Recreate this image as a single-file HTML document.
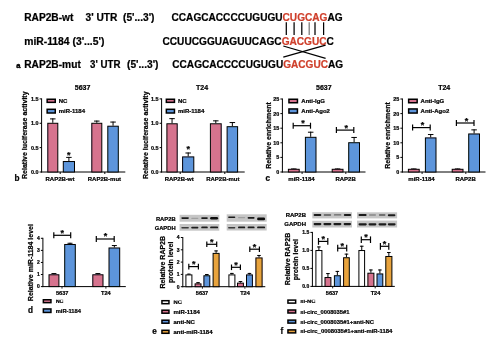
<!DOCTYPE html>
<html><head><meta charset="utf-8"><title>figure</title>
<style>
html,body{margin:0;padding:0;background:#fff;}
body{width:496px;height:352px;overflow:hidden;}
svg{display:block;font-family:"Liberation Sans",sans-serif;font-weight:bold;}
</style></head><body>
<svg width="496" height="352" viewBox="0 0 496 352">
<defs><filter id="soft" x="0" y="0" width="496" height="352" filterUnits="userSpaceOnUse"><feGaussianBlur stdDeviation="0.38"/></filter></defs>
<rect width="496" height="352" fill="#fff"/>
<g filter="url(#soft)">
<text x="24.2" y="20.9" font-size="10.2" text-anchor="start" fill="#000" stroke="#000" stroke-width="0.22">RAP2B-wt</text>
<text x="85.5" y="20.9" font-size="10.2" text-anchor="start" fill="#000" stroke="#000" stroke-width="0.22">3' UTR</text>
<text x="123" y="20.9" font-size="10.2" text-anchor="start" fill="#000" stroke="#000" stroke-width="0.22">(5'...3')</text>
<text x="171.5" y="20.9" font-size="10.2" stroke="#000" stroke-width="0.22" textLength="171.1" lengthAdjust="spacingAndGlyphs">CCAGCACCCCUGUGU<tspan fill="#cf3f2b" stroke="#cf3f2b">CUGCAG</tspan>AG</text>
<text x="24.2" y="45" font-size="10.2" text-anchor="start" fill="#000" stroke="#000" stroke-width="0.22" textLength="80.2" lengthAdjust="spacingAndGlyphs">miR-1184 (3'...5')</text>
<text x="162.5" y="44.8" font-size="10.2" stroke="#000" stroke-width="0.22" textLength="171.4" lengthAdjust="spacingAndGlyphs">CCUUCGGUAGUUCAGC<tspan fill="#cf3f2b" stroke="#cf3f2b">GACGUC</tspan>C</text>
<text x="16.2" y="67.5" font-size="7.6" text-anchor="start" fill="#000" stroke="#000" stroke-width="0.4">a</text>
<text x="24.2" y="67.5" font-size="10.2" text-anchor="start" fill="#000" stroke="#000" stroke-width="0.22">RAP2B-mut</text>
<text x="90.1" y="67.5" font-size="10.2" text-anchor="start" fill="#000" stroke="#000" stroke-width="0.22" textLength="30.4" lengthAdjust="spacingAndGlyphs">3' UTR</text>
<text x="127" y="67.5" font-size="10.2" text-anchor="start" fill="#000" stroke="#000" stroke-width="0.22">(5'...3')</text>
<text x="172.3" y="67.5" font-size="10.2" stroke="#000" stroke-width="0.22" textLength="170.8" lengthAdjust="spacingAndGlyphs">CCAGCACCCCUGUGU<tspan fill="#cf3f2b" stroke="#cf3f2b">GACGUC</tspan>AG</text>
<line x1="286.3" y1="22.3" x2="286.3" y2="35" stroke="#000" stroke-width="1.25"/>
<line x1="294.1" y1="22.3" x2="294.1" y2="35" stroke="#000" stroke-width="1.25"/>
<line x1="301.8" y1="22.3" x2="301.8" y2="35" stroke="#000" stroke-width="1.25"/>
<line x1="309.2" y1="22.3" x2="309.2" y2="35" stroke="#777" stroke-width="1.25"/>
<line x1="315" y1="22.3" x2="315" y2="35" stroke="#000" stroke-width="1.25"/>
<line x1="323.6" y1="22.3" x2="323.6" y2="35" stroke="#000" stroke-width="1.25"/>
<line x1="283.3" y1="46" x2="325.6" y2="58.4" stroke="#000" stroke-width="1.2"/>
<line x1="283.3" y1="57.2" x2="325.6" y2="45.2" stroke="#000" stroke-width="1.2"/>
<text x="14.4" y="180.6" font-size="8.2" text-anchor="start" fill="#000" stroke="#000" stroke-width="0.22">b</text>
<text x="82.6" y="89.7" font-size="7" text-anchor="middle" fill="#000" stroke="#000" stroke-width="0.22">5637</text>
<text transform="translate(27.3 135.2) rotate(-90)" font-size="7" text-anchor="middle" stroke="#000" stroke-width="0.22">Relative luciferase activity</text>
<line x1="41.6" y1="98.405" x2="41.6" y2="172.5" stroke="#000" stroke-width="1.0"/>
<line x1="41.1" y1="172.0" x2="125.3" y2="172.0" stroke="#000" stroke-width="1.0"/>
<line x1="39.6" y1="98.905" x2="41.6" y2="98.905" stroke="#000" stroke-width="1.0"/>
<text x="38.4" y="100.849" font-size="5.4" text-anchor="end" fill="#000" stroke="#000" stroke-width="0.22">1.5</text>
<line x1="39.6" y1="123.27000000000001" x2="41.6" y2="123.27000000000001" stroke="#000" stroke-width="1.0"/>
<text x="38.4" y="125.21400000000001" font-size="5.4" text-anchor="end" fill="#000" stroke="#000" stroke-width="0.22">1.0</text>
<line x1="39.6" y1="147.635" x2="41.6" y2="147.635" stroke="#000" stroke-width="1.0"/>
<text x="38.4" y="149.57899999999998" font-size="5.4" text-anchor="end" fill="#000" stroke="#000" stroke-width="0.22">0.5</text>
<line x1="39.6" y1="172.0" x2="41.6" y2="172.0" stroke="#000" stroke-width="1.0"/>
<text x="38.4" y="173.944" font-size="5.4" text-anchor="end" fill="#000" stroke="#000" stroke-width="0.22">0.0</text>
<rect x="47.15" y="99.25" width="8.10" height="3.10" fill="#d6738e" stroke="#000" stroke-width="1.5"/>
<rect x="47.15" y="109.30" width="8.10" height="3.70" fill="#5d95db" stroke="#000" stroke-width="1.5"/>
<text x="58.7" y="102.8" font-size="6" text-anchor="start" fill="#000" stroke="#000" stroke-width="0.22">NC</text>
<text x="58.7" y="112.6" font-size="6" text-anchor="start" fill="#000" stroke="#000" stroke-width="0.22">miR-1184</text>
<line x1="52.8" y1="122.7827" x2="52.8" y2="118.39699999999999" stroke="#000" stroke-width="1.0"/>
<line x1="50.05" y1="118.89699999999999" x2="55.55" y2="118.89699999999999" stroke="#000" stroke-width="1.0"/>
<rect x="47.80" y="123.28" width="10.00" height="48.72" fill="#d6738e" stroke="#000" stroke-width="1"/>
<line x1="68.9" y1="161.03575" x2="68.9" y2="156.8937" stroke="#000" stroke-width="1.0"/>
<line x1="66.15" y1="157.3937" x2="71.65" y2="157.3937" stroke="#000" stroke-width="1.0"/>
<rect x="63.30" y="161.54" width="11.20" height="10.46" fill="#5d95db" stroke="#000" stroke-width="1"/>
<line x1="96.8" y1="122.7827" x2="96.8" y2="120.58985000000001" stroke="#000" stroke-width="1.0"/>
<line x1="94.05" y1="121.08985000000001" x2="99.55" y2="121.08985000000001" stroke="#000" stroke-width="1.0"/>
<rect x="91.80" y="123.28" width="10.00" height="48.72" fill="#d6738e" stroke="#000" stroke-width="1"/>
<line x1="113.05" y1="125.7065" x2="113.05" y2="121.56445000000001" stroke="#000" stroke-width="1.0"/>
<line x1="110.3" y1="122.06445000000001" x2="115.8" y2="122.06445000000001" stroke="#000" stroke-width="1.0"/>
<rect x="107.80" y="126.21" width="10.50" height="45.79" fill="#5d95db" stroke="#000" stroke-width="1"/>
<text x="68.7" y="157.53" font-size="9" text-anchor="middle" fill="#000" stroke="#000" stroke-width="0.22">*</text>
<line x1="60.2" y1="172.0" x2="60.2" y2="174.0" stroke="#000" stroke-width="1.0"/>
<line x1="104.8" y1="172.0" x2="104.8" y2="174.0" stroke="#000" stroke-width="1.0"/>
<text x="60.0" y="180.6" font-size="6" text-anchor="middle" fill="#000" stroke="#000" stroke-width="0.22">RAP2B-wt</text>
<text x="104.4" y="180.6" font-size="6" text-anchor="middle" fill="#000" stroke="#000" stroke-width="0.22">RAP2B-mut</text>
<text x="202" y="89.7" font-size="7" text-anchor="middle" fill="#000" stroke="#000" stroke-width="0.22">T24</text>
<text transform="translate(147.6 135.2) rotate(-90)" font-size="7" text-anchor="middle" stroke="#000" stroke-width="0.22">Relative luciferase activity</text>
<line x1="161.6" y1="98.405" x2="161.6" y2="172.5" stroke="#000" stroke-width="1.0"/>
<line x1="161.1" y1="172.0" x2="244.70000000000002" y2="172.0" stroke="#000" stroke-width="1.0"/>
<line x1="159.6" y1="98.905" x2="161.6" y2="98.905" stroke="#000" stroke-width="1.0"/>
<text x="158.4" y="100.849" font-size="5.4" text-anchor="end" fill="#000" stroke="#000" stroke-width="0.22">1.5</text>
<line x1="159.6" y1="123.27000000000001" x2="161.6" y2="123.27000000000001" stroke="#000" stroke-width="1.0"/>
<text x="158.4" y="125.21400000000001" font-size="5.4" text-anchor="end" fill="#000" stroke="#000" stroke-width="0.22">1.0</text>
<line x1="159.6" y1="147.635" x2="161.6" y2="147.635" stroke="#000" stroke-width="1.0"/>
<text x="158.4" y="149.57899999999998" font-size="5.4" text-anchor="end" fill="#000" stroke="#000" stroke-width="0.22">0.5</text>
<line x1="159.6" y1="172.0" x2="161.6" y2="172.0" stroke="#000" stroke-width="1.0"/>
<text x="158.4" y="173.944" font-size="5.4" text-anchor="end" fill="#000" stroke="#000" stroke-width="0.22">0.0</text>
<rect x="166.35" y="99.25" width="8.10" height="3.10" fill="#d6738e" stroke="#000" stroke-width="1.5"/>
<rect x="166.35" y="109.30" width="8.10" height="3.70" fill="#5d95db" stroke="#000" stroke-width="1.5"/>
<text x="177.9" y="102.8" font-size="6" text-anchor="start" fill="#000" stroke="#000" stroke-width="0.22">NC</text>
<text x="177.9" y="112.6" font-size="6" text-anchor="start" fill="#000" stroke="#000" stroke-width="0.22">miR-1184</text>
<line x1="172.05" y1="123.27000000000001" x2="172.05" y2="118.15335" stroke="#000" stroke-width="1.0"/>
<line x1="169.3" y1="118.65335" x2="174.8" y2="118.65335" stroke="#000" stroke-width="1.0"/>
<rect x="166.90" y="123.77" width="10.30" height="48.23" fill="#d6738e" stroke="#000" stroke-width="1"/>
<line x1="188.2" y1="156.4064" x2="188.2" y2="152.508" stroke="#000" stroke-width="1.0"/>
<line x1="185.45" y1="153.008" x2="190.95" y2="153.008" stroke="#000" stroke-width="1.0"/>
<rect x="182.60" y="156.91" width="11.20" height="15.09" fill="#5d95db" stroke="#000" stroke-width="1"/>
<line x1="215.8" y1="123.27000000000001" x2="215.8" y2="120.34620000000001" stroke="#000" stroke-width="1.0"/>
<line x1="213.05" y1="120.84620000000001" x2="218.55" y2="120.84620000000001" stroke="#000" stroke-width="1.0"/>
<rect x="210.40" y="123.77" width="10.80" height="48.23" fill="#d6738e" stroke="#000" stroke-width="1"/>
<line x1="232.35" y1="126.19380000000001" x2="232.35" y2="122.05175" stroke="#000" stroke-width="1.0"/>
<line x1="229.6" y1="122.55175" x2="235.1" y2="122.55175" stroke="#000" stroke-width="1.0"/>
<rect x="227.10" y="126.69" width="10.50" height="45.31" fill="#5d95db" stroke="#000" stroke-width="1"/>
<text x="188.2" y="152.42999999999998" font-size="9" text-anchor="middle" fill="#000" stroke="#000" stroke-width="0.22">*</text>
<line x1="180.2" y1="172.0" x2="180.2" y2="174.0" stroke="#000" stroke-width="1.0"/>
<line x1="224.8" y1="172.0" x2="224.8" y2="174.0" stroke="#000" stroke-width="1.0"/>
<text x="179.2" y="180.6" font-size="6" text-anchor="middle" fill="#000" stroke="#000" stroke-width="0.22">RAP2B-wt</text>
<text x="222.8" y="180.6" font-size="6" text-anchor="middle" fill="#000" stroke="#000" stroke-width="0.22">RAP2B-mut</text>
<text x="265.6" y="180.6" font-size="8.2" text-anchor="start" fill="#000" stroke="#000" stroke-width="0.22">c</text>
<text x="323.8" y="89.7" font-size="7" text-anchor="middle" fill="#000" stroke="#000" stroke-width="0.22">5637</text>
<text transform="translate(270.6 135.5) rotate(-90)" font-size="7" text-anchor="middle" stroke="#000" stroke-width="0.22">Relative enrichment</text>
<line x1="282.4" y1="98.5" x2="282.4" y2="172.5" stroke="#000" stroke-width="1.0"/>
<line x1="281.9" y1="172.0" x2="365.5" y2="172.0" stroke="#000" stroke-width="1.0"/>
<line x1="280.4" y1="99.0" x2="282.4" y2="99.0" stroke="#000" stroke-width="1.0"/>
<text x="279.2" y="100.944" font-size="5.4" text-anchor="end" fill="#000" stroke="#000" stroke-width="0.22">25</text>
<line x1="280.4" y1="113.6" x2="282.4" y2="113.6" stroke="#000" stroke-width="1.0"/>
<text x="279.2" y="115.544" font-size="5.4" text-anchor="end" fill="#000" stroke="#000" stroke-width="0.22">20</text>
<line x1="280.4" y1="128.2" x2="282.4" y2="128.2" stroke="#000" stroke-width="1.0"/>
<text x="279.2" y="130.14399999999998" font-size="5.4" text-anchor="end" fill="#000" stroke="#000" stroke-width="0.22">15</text>
<line x1="280.4" y1="142.8" x2="282.4" y2="142.8" stroke="#000" stroke-width="1.0"/>
<text x="279.2" y="144.744" font-size="5.4" text-anchor="end" fill="#000" stroke="#000" stroke-width="0.22">10</text>
<line x1="280.4" y1="157.4" x2="282.4" y2="157.4" stroke="#000" stroke-width="1.0"/>
<text x="279.2" y="159.344" font-size="5.4" text-anchor="end" fill="#000" stroke="#000" stroke-width="0.22">5</text>
<line x1="280.4" y1="172.0" x2="282.4" y2="172.0" stroke="#000" stroke-width="1.0"/>
<text x="279.2" y="173.944" font-size="5.4" text-anchor="end" fill="#000" stroke="#000" stroke-width="0.22">0</text>
<rect x="288.95" y="99.25" width="8.50" height="3.50" fill="#d6738e" stroke="#000" stroke-width="1.5"/>
<rect x="288.95" y="108.95" width="8.50" height="4.10" fill="#5d95db" stroke="#000" stroke-width="1.5"/>
<text x="301.3" y="103.1" font-size="6" text-anchor="start" fill="#000" stroke="#000" stroke-width="0.22">Anti-IgG</text>
<text x="301.3" y="112.9" font-size="6" text-anchor="start" fill="#000" stroke="#000" stroke-width="0.22">Anti-Ago2</text>
<line x1="293.79999999999995" y1="168.788" x2="293.79999999999995" y2="168.4376" stroke="#000" stroke-width="1.0"/>
<line x1="291.04999999999995" y1="168.9376" x2="296.54999999999995" y2="168.9376" stroke="#000" stroke-width="1.0"/>
<rect x="288.40" y="169.29" width="10.80" height="2.71" fill="#d6738e" stroke="#000" stroke-width="1"/>
<line x1="310.7" y1="136.814" x2="310.7" y2="131.704" stroke="#000" stroke-width="1.0"/>
<line x1="307.95" y1="132.204" x2="313.45" y2="132.204" stroke="#000" stroke-width="1.0"/>
<rect x="305.40" y="137.31" width="10.60" height="34.69" fill="#5d95db" stroke="#000" stroke-width="1"/>
<line x1="337.6" y1="168.788" x2="337.6" y2="168.4376" stroke="#000" stroke-width="1.0"/>
<line x1="334.85" y1="168.9376" x2="340.35" y2="168.9376" stroke="#000" stroke-width="1.0"/>
<rect x="332.20" y="169.29" width="10.80" height="2.71" fill="#d6738e" stroke="#000" stroke-width="1"/>
<line x1="354.1" y1="142.216" x2="354.1" y2="136.96" stroke="#000" stroke-width="1.0"/>
<line x1="351.35" y1="137.46" x2="356.85" y2="137.46" stroke="#000" stroke-width="1.0"/>
<rect x="348.70" y="142.72" width="10.80" height="29.28" fill="#5d95db" stroke="#000" stroke-width="1"/>
<line x1="293.2" y1="125.7" x2="310.5" y2="125.7" stroke="#000" stroke-width="1.2"/>
<line x1="293.2" y1="122.7" x2="293.2" y2="128.7" stroke="#000" stroke-width="1.2"/>
<line x1="310.5" y1="122.7" x2="310.5" y2="128.7" stroke="#000" stroke-width="1.2"/>
<text x="303.05" y="126.43" font-size="9" text-anchor="middle" fill="#000" stroke="#000" stroke-width="0.22">*</text>
<line x1="336.4" y1="130.1" x2="353.8" y2="130.1" stroke="#000" stroke-width="1.2"/>
<line x1="336.4" y1="127.1" x2="336.4" y2="133.1" stroke="#000" stroke-width="1.2"/>
<line x1="353.8" y1="127.1" x2="353.8" y2="133.1" stroke="#000" stroke-width="1.2"/>
<text x="346.3" y="130.82999999999998" font-size="9" text-anchor="middle" fill="#000" stroke="#000" stroke-width="0.22">*</text>
<line x1="302.1" y1="172.0" x2="302.1" y2="174.0" stroke="#000" stroke-width="0.9"/>
<line x1="345.8" y1="172.0" x2="345.8" y2="174.0" stroke="#000" stroke-width="0.9"/>
<text x="301.5" y="180.5" font-size="6" text-anchor="middle" fill="#000" stroke="#000" stroke-width="0.22">miR-1184</text>
<text x="345.6" y="180.5" font-size="6" text-anchor="middle" fill="#000" stroke="#000" stroke-width="0.22">RAP2B</text>
<text x="444.2" y="89.7" font-size="7" text-anchor="middle" fill="#000" stroke="#000" stroke-width="0.22">T24</text>
<text transform="translate(390.3 135.5) rotate(-90)" font-size="7" text-anchor="middle" stroke="#000" stroke-width="0.22">Relative enrichment</text>
<line x1="402.4" y1="98.5" x2="402.4" y2="172.5" stroke="#000" stroke-width="1.0"/>
<line x1="401.9" y1="172.0" x2="485.5" y2="172.0" stroke="#000" stroke-width="1.0"/>
<line x1="400.4" y1="99.0" x2="402.4" y2="99.0" stroke="#000" stroke-width="1.0"/>
<text x="399.2" y="100.944" font-size="5.4" text-anchor="end" fill="#000" stroke="#000" stroke-width="0.22">25</text>
<line x1="400.4" y1="113.6" x2="402.4" y2="113.6" stroke="#000" stroke-width="1.0"/>
<text x="399.2" y="115.544" font-size="5.4" text-anchor="end" fill="#000" stroke="#000" stroke-width="0.22">20</text>
<line x1="400.4" y1="128.2" x2="402.4" y2="128.2" stroke="#000" stroke-width="1.0"/>
<text x="399.2" y="130.14399999999998" font-size="5.4" text-anchor="end" fill="#000" stroke="#000" stroke-width="0.22">15</text>
<line x1="400.4" y1="142.8" x2="402.4" y2="142.8" stroke="#000" stroke-width="1.0"/>
<text x="399.2" y="144.744" font-size="5.4" text-anchor="end" fill="#000" stroke="#000" stroke-width="0.22">10</text>
<line x1="400.4" y1="157.4" x2="402.4" y2="157.4" stroke="#000" stroke-width="1.0"/>
<text x="399.2" y="159.344" font-size="5.4" text-anchor="end" fill="#000" stroke="#000" stroke-width="0.22">5</text>
<line x1="400.4" y1="172.0" x2="402.4" y2="172.0" stroke="#000" stroke-width="1.0"/>
<text x="399.2" y="173.944" font-size="5.4" text-anchor="end" fill="#000" stroke="#000" stroke-width="0.22">0</text>
<rect x="408.65" y="99.25" width="8.50" height="3.50" fill="#d6738e" stroke="#000" stroke-width="1.5"/>
<rect x="408.65" y="108.95" width="8.50" height="4.10" fill="#5d95db" stroke="#000" stroke-width="1.5"/>
<text x="420.6" y="103.1" font-size="6" text-anchor="start" fill="#000" stroke="#000" stroke-width="0.22">Anti-IgG</text>
<text x="420.6" y="112.9" font-size="6" text-anchor="start" fill="#000" stroke="#000" stroke-width="0.22">Anti-Ago2</text>
<line x1="413.79999999999995" y1="168.788" x2="413.79999999999995" y2="168.4376" stroke="#000" stroke-width="1.0"/>
<line x1="411.04999999999995" y1="168.9376" x2="416.54999999999995" y2="168.9376" stroke="#000" stroke-width="1.0"/>
<rect x="408.40" y="169.29" width="10.80" height="2.71" fill="#d6738e" stroke="#000" stroke-width="1"/>
<line x1="430.7" y1="137.398" x2="430.7" y2="134.04" stroke="#000" stroke-width="1.0"/>
<line x1="427.95" y1="134.54" x2="433.45" y2="134.54" stroke="#000" stroke-width="1.0"/>
<rect x="425.40" y="137.90" width="10.60" height="34.10" fill="#5d95db" stroke="#000" stroke-width="1"/>
<line x1="457.6" y1="168.788" x2="457.6" y2="168.4376" stroke="#000" stroke-width="1.0"/>
<line x1="454.85" y1="168.9376" x2="460.35" y2="168.9376" stroke="#000" stroke-width="1.0"/>
<rect x="452.20" y="169.29" width="10.80" height="2.71" fill="#d6738e" stroke="#000" stroke-width="1"/>
<line x1="474.1" y1="133.45600000000002" x2="474.1" y2="129.368" stroke="#000" stroke-width="1.0"/>
<line x1="471.35" y1="129.868" x2="476.85" y2="129.868" stroke="#000" stroke-width="1.0"/>
<rect x="468.70" y="133.96" width="10.80" height="38.04" fill="#5d95db" stroke="#000" stroke-width="1"/>
<line x1="412.6" y1="127.6" x2="430.2" y2="127.6" stroke="#000" stroke-width="1.2"/>
<line x1="412.6" y1="124.6" x2="412.6" y2="130.6" stroke="#000" stroke-width="1.2"/>
<line x1="430.2" y1="124.6" x2="430.2" y2="130.6" stroke="#000" stroke-width="1.2"/>
<text x="422.59999999999997" y="128.32999999999998" font-size="9" text-anchor="middle" fill="#000" stroke="#000" stroke-width="0.22">*</text>
<line x1="456.4" y1="123" x2="474" y2="123" stroke="#000" stroke-width="1.2"/>
<line x1="456.4" y1="120" x2="456.4" y2="126" stroke="#000" stroke-width="1.2"/>
<line x1="474" y1="120" x2="474" y2="126" stroke="#000" stroke-width="1.2"/>
<text x="466.4" y="123.73" font-size="9" text-anchor="middle" fill="#000" stroke="#000" stroke-width="0.22">*</text>
<line x1="422.1" y1="172.0" x2="422.1" y2="174.0" stroke="#000" stroke-width="0.9"/>
<line x1="465.8" y1="172.0" x2="465.8" y2="174.0" stroke="#000" stroke-width="0.9"/>
<text x="421.5" y="180.5" font-size="6" text-anchor="middle" fill="#000" stroke="#000" stroke-width="0.22">miR-1184</text>
<text x="465.6" y="180.5" font-size="6" text-anchor="middle" fill="#000" stroke="#000" stroke-width="0.22">RAP2B</text>
<text transform="translate(33.2 262.6) rotate(-90)" font-size="7" text-anchor="middle" stroke="#000" stroke-width="0.22">Relative miR-1184 level</text>
<line x1="42.9" y1="237.8" x2="42.9" y2="287.1" stroke="#000" stroke-width="1.0"/>
<line x1="42.4" y1="286.6" x2="125.8" y2="286.6" stroke="#000" stroke-width="1.0"/>
<line x1="40.9" y1="238.3" x2="42.9" y2="238.3" stroke="#000" stroke-width="1.0"/>
<text x="39.699999999999996" y="240.10000000000002" font-size="5.0" text-anchor="end" fill="#000" stroke="#000" stroke-width="0.22">4</text>
<line x1="40.9" y1="250.37500000000003" x2="42.9" y2="250.37500000000003" stroke="#000" stroke-width="1.0"/>
<text x="39.699999999999996" y="252.17500000000004" font-size="5.0" text-anchor="end" fill="#000" stroke="#000" stroke-width="0.22">3</text>
<line x1="40.9" y1="262.45000000000005" x2="42.9" y2="262.45000000000005" stroke="#000" stroke-width="1.0"/>
<text x="39.699999999999996" y="264.25000000000006" font-size="5.0" text-anchor="end" fill="#000" stroke="#000" stroke-width="0.22">2</text>
<line x1="40.9" y1="274.52500000000003" x2="42.9" y2="274.52500000000003" stroke="#000" stroke-width="1.0"/>
<text x="39.699999999999996" y="276.32500000000005" font-size="5.0" text-anchor="end" fill="#000" stroke="#000" stroke-width="0.22">1</text>
<line x1="40.9" y1="286.6" x2="42.9" y2="286.6" stroke="#000" stroke-width="1.0"/>
<text x="39.699999999999996" y="288.40000000000003" font-size="5.0" text-anchor="end" fill="#000" stroke="#000" stroke-width="0.22">0</text>
<line x1="53.95" y1="274.2835" x2="53.95" y2="273.076" stroke="#000" stroke-width="1.0"/>
<line x1="51.45" y1="273.576" x2="56.45" y2="273.576" stroke="#000" stroke-width="1.0"/>
<rect x="49.00" y="274.78" width="9.90" height="11.82" fill="#d6738e" stroke="#000" stroke-width="1"/>
<line x1="70.0" y1="243.97525000000002" x2="70.0" y2="242.76775000000004" stroke="#000" stroke-width="1.0"/>
<line x1="67.5" y1="243.26775000000004" x2="72.5" y2="243.26775000000004" stroke="#000" stroke-width="1.0"/>
<rect x="64.70" y="244.48" width="10.60" height="42.12" fill="#5d95db" stroke="#000" stroke-width="1"/>
<line x1="97.9" y1="274.2835" x2="97.9" y2="273.076" stroke="#000" stroke-width="1.0"/>
<line x1="95.4" y1="273.576" x2="100.4" y2="273.576" stroke="#000" stroke-width="1.0"/>
<rect x="92.80" y="274.78" width="10.20" height="11.82" fill="#d6738e" stroke="#000" stroke-width="1"/>
<line x1="114.35" y1="247.47700000000003" x2="114.35" y2="245.062" stroke="#000" stroke-width="1.0"/>
<line x1="111.85" y1="245.562" x2="116.85" y2="245.562" stroke="#000" stroke-width="1.0"/>
<rect x="109.00" y="247.98" width="10.70" height="38.62" fill="#5d95db" stroke="#000" stroke-width="1"/>
<line x1="53.8" y1="235.3" x2="70.7" y2="235.3" stroke="#000" stroke-width="1.2"/>
<line x1="53.8" y1="232.3" x2="53.8" y2="238.3" stroke="#000" stroke-width="1.2"/>
<line x1="70.7" y1="232.3" x2="70.7" y2="238.3" stroke="#000" stroke-width="1.2"/>
<text x="62.3" y="235.82999999999998" font-size="9" text-anchor="middle" fill="#000" stroke="#000" stroke-width="0.22">*</text>
<line x1="96.3" y1="239" x2="114.2" y2="239" stroke="#000" stroke-width="1.2"/>
<line x1="96.3" y1="236" x2="96.3" y2="242" stroke="#000" stroke-width="1.2"/>
<line x1="114.2" y1="236" x2="114.2" y2="242" stroke="#000" stroke-width="1.2"/>
<text x="105.4" y="239.42999999999998" font-size="9" text-anchor="middle" fill="#000" stroke="#000" stroke-width="0.22">*</text>
<line x1="62" y1="286.6" x2="62" y2="288.6" stroke="#000" stroke-width="0.9"/>
<line x1="105.9" y1="286.6" x2="105.9" y2="288.6" stroke="#000" stroke-width="0.9"/>
<text x="62.2" y="294.9" font-size="5.6" text-anchor="middle" fill="#000" stroke="#000" stroke-width="0.22">5637</text>
<text x="105.8" y="294.9" font-size="5.6" text-anchor="middle" fill="#000" stroke="#000" stroke-width="0.22">T24</text>
<rect x="43.35" y="299.75" width="7.60" height="2.90" fill="#d6738e" stroke="#000" stroke-width="1.5"/>
<rect x="43.35" y="308.95" width="7.60" height="3.50" fill="#5d95db" stroke="#000" stroke-width="1.5"/>
<clipPath id="cd"><rect x="50" y="299.7" width="30" height="8"/></clipPath>
<text x="55.7" y="303.2" font-size="5.4" text-anchor="start" fill="#000" stroke="#000" stroke-width="0.22" clip-path="url(#cd)">NC</text>
<text x="55.7" y="312.9" font-size="5.75" text-anchor="start" fill="#000" stroke="#000" stroke-width="0.22">miR-1184</text>
<text x="27.9" y="312.9" font-size="8.2" text-anchor="start" fill="#000" stroke="#000" stroke-width="0.22">d</text>
<text x="175.6" y="220.9" font-size="5.8" text-anchor="end" fill="#000" stroke="#000" stroke-width="0.22">RAP2B</text>
<text x="175.6" y="229.5" font-size="5.8" text-anchor="end" fill="#000" stroke="#000" stroke-width="0.22">GAPDH</text>
<rect x="179.6" y="214.8" width="39.70" height="6.90" fill="#c6c6c6"/>
<rect x="181.3" y="217.30" width="7.60" height="1.6" rx="0.80" fill="#1c1c1c"/>
<rect x="191.2" y="217.65" width="7.20" height="1.3" rx="0.65" fill="#a0a0a0"/>
<rect x="201.2" y="217.25" width="6.60" height="1.7" rx="0.85" fill="#1c1c1c"/>
<rect x="210.1" y="217.00" width="8.00" height="2.6" rx="1.30" fill="#0a0a0a"/>
<rect x="179.6" y="224" width="39.70" height="6.70" fill="#c6c6c6"/>
<rect x="181.3" y="227.05" width="7.60" height="1.5" rx="0.75" fill="#3a3a3a"/>
<rect x="191.2" y="226.75" width="7.20" height="1.7" rx="0.85" fill="#1c1c1c"/>
<rect x="201.2" y="226.50" width="6.60" height="1.8" rx="0.90" fill="#1c1c1c"/>
<rect x="210.1" y="226.45" width="8.00" height="1.9" rx="0.95" fill="#1c1c1c"/>
<rect x="226.7" y="214.3" width="40.00" height="7.40" fill="#c6c6c6"/>
<rect x="228.1" y="216.40" width="7.20" height="1.6" rx="0.80" fill="#1c1c1c"/>
<rect x="238" y="217.00" width="7.20" height="1.2" rx="0.60" fill="#a0a0a0"/>
<rect x="247.6" y="216.95" width="7.00" height="1.7" rx="0.85" fill="#1c1c1c"/>
<rect x="257.1" y="217.60" width="8.00" height="2.6" rx="1.30" fill="#0a0a0a"/>
<rect x="226.7" y="224" width="40.00" height="6.50" fill="#c6c6c6"/>
<rect x="228.1" y="227.00" width="7.20" height="1.4" rx="0.70" fill="#3a3a3a"/>
<rect x="238" y="226.55" width="7.20" height="1.7" rx="0.85" fill="#1c1c1c"/>
<rect x="247.6" y="226.55" width="7.00" height="1.7" rx="0.85" fill="#1c1c1c"/>
<rect x="257.1" y="226.50" width="8.00" height="1.8" rx="0.90" fill="#1c1c1c"/>
<text transform="translate(165.2 262.2) rotate(-90)" font-size="7" text-anchor="middle" stroke="#000" stroke-width="0.22">Relative RAP2B</text>
<text transform="translate(173.1 262.3) rotate(-90)" font-size="7" text-anchor="middle" stroke="#000" stroke-width="0.22">protein level</text>
<line x1="182.8" y1="237.0" x2="182.8" y2="287.2" stroke="#000" stroke-width="1.0"/>
<line x1="182.3" y1="286.7" x2="265.3" y2="286.7" stroke="#000" stroke-width="1.0"/>
<line x1="180.8" y1="237.5" x2="182.8" y2="237.5" stroke="#000" stroke-width="1.0"/>
<text x="179.60000000000002" y="239.3" font-size="5.0" text-anchor="end" fill="#000" stroke="#000" stroke-width="0.22">4</text>
<line x1="180.8" y1="249.79999999999998" x2="182.8" y2="249.79999999999998" stroke="#000" stroke-width="1.0"/>
<text x="179.60000000000002" y="251.6" font-size="5.0" text-anchor="end" fill="#000" stroke="#000" stroke-width="0.22">3</text>
<line x1="180.8" y1="262.09999999999997" x2="182.8" y2="262.09999999999997" stroke="#000" stroke-width="1.0"/>
<text x="179.60000000000002" y="263.9" font-size="5.0" text-anchor="end" fill="#000" stroke="#000" stroke-width="0.22">2</text>
<line x1="180.8" y1="274.4" x2="182.8" y2="274.4" stroke="#000" stroke-width="1.0"/>
<text x="179.60000000000002" y="276.2" font-size="5.0" text-anchor="end" fill="#000" stroke="#000" stroke-width="0.22">1</text>
<line x1="180.8" y1="286.7" x2="182.8" y2="286.7" stroke="#000" stroke-width="1.0"/>
<text x="179.60000000000002" y="288.5" font-size="5.0" text-anchor="end" fill="#000" stroke="#000" stroke-width="0.22">0</text>
<line x1="188.9" y1="274.4" x2="188.9" y2="273.662" stroke="#000" stroke-width="1.0"/>
<line x1="187.1" y1="274.162" x2="190.70000000000002" y2="274.162" stroke="#000" stroke-width="1.0"/>
<rect x="185.90" y="274.90" width="6.00" height="11.80" fill="#ffffff" stroke="#000" stroke-width="1"/>
<line x1="198.05" y1="283.37899999999996" x2="198.05" y2="282.149" stroke="#000" stroke-width="1.0"/>
<line x1="196.25" y1="282.649" x2="199.85000000000002" y2="282.649" stroke="#000" stroke-width="1.0"/>
<rect x="195.10" y="283.88" width="5.90" height="2.82" fill="#d6738e" stroke="#000" stroke-width="1"/>
<line x1="206.85000000000002" y1="275.26099999999997" x2="206.85000000000002" y2="274.031" stroke="#000" stroke-width="1.0"/>
<line x1="205.05" y1="274.531" x2="208.65000000000003" y2="274.531" stroke="#000" stroke-width="1.0"/>
<rect x="203.90" y="275.76" width="5.90" height="10.94" fill="#5d95db" stroke="#000" stroke-width="1"/>
<line x1="216.1" y1="252.875" x2="216.1" y2="250.415" stroke="#000" stroke-width="1.0"/>
<line x1="214.29999999999998" y1="250.915" x2="217.9" y2="250.915" stroke="#000" stroke-width="1.0"/>
<rect x="213.10" y="253.38" width="6.00" height="33.32" fill="#e8a33d" stroke="#000" stroke-width="1"/>
<line x1="231.9" y1="274.4" x2="231.9" y2="272.924" stroke="#000" stroke-width="1.0"/>
<line x1="230.1" y1="273.424" x2="233.70000000000002" y2="273.424" stroke="#000" stroke-width="1.0"/>
<rect x="228.90" y="274.90" width="6.00" height="11.80" fill="#ffffff" stroke="#000" stroke-width="1"/>
<line x1="240.45" y1="282.64099999999996" x2="240.45" y2="281.042" stroke="#000" stroke-width="1.0"/>
<line x1="238.64999999999998" y1="281.542" x2="242.25" y2="281.542" stroke="#000" stroke-width="1.0"/>
<rect x="237.50" y="283.14" width="5.90" height="3.56" fill="#d6738e" stroke="#000" stroke-width="1"/>
<line x1="249.45" y1="274.4" x2="249.45" y2="272.924" stroke="#000" stroke-width="1.0"/>
<line x1="247.64999999999998" y1="273.424" x2="251.25" y2="273.424" stroke="#000" stroke-width="1.0"/>
<rect x="246.50" y="274.90" width="5.90" height="11.80" fill="#5d95db" stroke="#000" stroke-width="1"/>
<line x1="259.0" y1="257.426" x2="259.0" y2="254.96599999999998" stroke="#000" stroke-width="1.0"/>
<line x1="257.2" y1="255.46599999999998" x2="260.8" y2="255.46599999999998" stroke="#000" stroke-width="1.0"/>
<rect x="255.90" y="257.93" width="6.20" height="28.77" fill="#e8a33d" stroke="#000" stroke-width="1"/>
<line x1="188.8" y1="266.6" x2="198.4" y2="266.6" stroke="#000" stroke-width="1.2"/>
<line x1="188.8" y1="263.8" x2="188.8" y2="269.40000000000003" stroke="#000" stroke-width="1.2"/>
<line x1="198.4" y1="263.8" x2="198.4" y2="269.40000000000003" stroke="#000" stroke-width="1.2"/>
<text x="193.7" y="267.23" font-size="9" text-anchor="middle" fill="#000" stroke="#000" stroke-width="0.22">*</text>
<line x1="206.8" y1="244.3" x2="216.7" y2="244.3" stroke="#000" stroke-width="1.2"/>
<line x1="206.8" y1="241.5" x2="206.8" y2="247.10000000000002" stroke="#000" stroke-width="1.2"/>
<line x1="216.7" y1="241.5" x2="216.7" y2="247.10000000000002" stroke="#000" stroke-width="1.2"/>
<text x="211.7" y="244.82999999999998" font-size="9" text-anchor="middle" fill="#000" stroke="#000" stroke-width="0.22">*</text>
<line x1="231.5" y1="267.3" x2="240.4" y2="267.3" stroke="#000" stroke-width="1.2"/>
<line x1="231.5" y1="264.5" x2="231.5" y2="270.1" stroke="#000" stroke-width="1.2"/>
<line x1="240.4" y1="264.5" x2="240.4" y2="270.1" stroke="#000" stroke-width="1.2"/>
<text x="235.9" y="267.93" font-size="9" text-anchor="middle" fill="#000" stroke="#000" stroke-width="0.22">*</text>
<line x1="249.8" y1="249.2" x2="259.4" y2="249.2" stroke="#000" stroke-width="1.2"/>
<line x1="249.8" y1="246.39999999999998" x2="249.8" y2="252.0" stroke="#000" stroke-width="1.2"/>
<line x1="259.4" y1="246.39999999999998" x2="259.4" y2="252.0" stroke="#000" stroke-width="1.2"/>
<text x="254.5" y="249.73" font-size="9" text-anchor="middle" fill="#000" stroke="#000" stroke-width="0.22">*</text>
<line x1="202.4" y1="286.7" x2="202.4" y2="288.7" stroke="#000" stroke-width="0.9"/>
<line x1="244.9" y1="286.7" x2="244.9" y2="288.7" stroke="#000" stroke-width="0.9"/>
<text x="202" y="295" font-size="5.6" text-anchor="middle" fill="#000" stroke="#000" stroke-width="0.22">5637</text>
<text x="245" y="295.2" font-size="5.6" text-anchor="middle" fill="#000" stroke="#000" stroke-width="0.22">T24</text>
<rect x="161.95" y="300.70" width="7.00" height="3.00" fill="#ffffff" stroke="#000" stroke-width="1.5"/>
<rect x="161.95" y="310.20" width="7.00" height="3.00" fill="#d6738e" stroke="#000" stroke-width="1.5"/>
<rect x="161.95" y="320.20" width="7.00" height="3.00" fill="#5d95db" stroke="#000" stroke-width="1.5"/>
<rect x="161.95" y="330.30" width="7.00" height="3.00" fill="#e8a33d" stroke="#000" stroke-width="1.5"/>
<clipPath id="ce"><rect x="170" y="300.5" width="30" height="8"/></clipPath>
<text x="173.5" y="303.7" font-size="5.9" text-anchor="start" fill="#000" stroke="#000" stroke-width="0.22" clip-path="url(#ce)">NC</text>
<text x="173.5" y="313.8" font-size="6" text-anchor="start" fill="#000" stroke="#000" stroke-width="0.22">miR-1184</text>
<text x="173.5" y="323.8" font-size="6" text-anchor="start" fill="#000" stroke="#000" stroke-width="0.22">anti-NC</text>
<text x="173.5" y="333.9" font-size="6" text-anchor="start" fill="#000" stroke="#000" stroke-width="0.22">anti-miR-1184</text>
<text x="152.3" y="333.8" font-size="8.2" text-anchor="start" fill="#000" stroke="#000" stroke-width="0.22">e</text>
<text x="306" y="216.9" font-size="6" text-anchor="end" fill="#000" stroke="#000" stroke-width="0.22">RAP2B</text>
<text x="306" y="225.9" font-size="6" text-anchor="end" fill="#000" stroke="#000" stroke-width="0.22">GAPDH</text>
<rect x="312.3" y="212.2" width="39.70" height="6.20" fill="#c6c6c6"/>
<rect x="313.6" y="214.00" width="7.70" height="2.0" rx="1.00" fill="#1c1c1c"/>
<rect x="323.6" y="214.15" width="7.60" height="1.5" rx="0.75" fill="#555"/>
<rect x="333.8" y="214.20" width="7.60" height="1.4" rx="0.70" fill="#666"/>
<rect x="343.8" y="214.00" width="7.30" height="2.0" rx="1.00" fill="#1c1c1c"/>
<rect x="312.3" y="220.8" width="39.70" height="6.70" fill="#c6c6c6"/>
<rect x="313.6" y="223.05" width="7.80" height="2.1" rx="1.05" fill="#1c1c1c"/>
<rect x="323.4" y="223.00" width="8.00" height="2.2" rx="1.10" fill="#1c1c1c"/>
<rect x="333.4" y="223.00" width="8.00" height="2.2" rx="1.10" fill="#1c1c1c"/>
<rect x="343.6" y="223.05" width="7.50" height="2.1" rx="1.05" fill="#1c1c1c"/>
<rect x="357" y="212.3" width="40.10" height="6.10" fill="#c6c6c6"/>
<rect x="358.5" y="214.00" width="8.10" height="2.0" rx="1.00" fill="#1c1c1c"/>
<rect x="369" y="214.35" width="7.00" height="1.3" rx="0.65" fill="#888"/>
<rect x="378.9" y="214.35" width="6.60" height="1.5" rx="0.75" fill="#555"/>
<rect x="387.8" y="214.20" width="7.60" height="2.0" rx="1.00" fill="#1c1c1c"/>
<rect x="357" y="220.6" width="40.10" height="6.90" fill="#c6c6c6"/>
<rect x="358.5" y="223.20" width="8.30" height="2.2" rx="1.10" fill="#1c1c1c"/>
<rect x="368.5" y="223.20" width="7.90" height="2.2" rx="1.10" fill="#1c1c1c"/>
<rect x="378.5" y="223.20" width="7.90" height="2.2" rx="1.10" fill="#1c1c1c"/>
<rect x="387.8" y="223.20" width="7.80" height="2.2" rx="1.10" fill="#1c1c1c"/>
<text transform="translate(290.3 259) rotate(-90)" font-size="7" text-anchor="middle" stroke="#000" stroke-width="0.22">Relative RAP2B</text>
<text transform="translate(298.3 259.6) rotate(-90)" font-size="7" text-anchor="middle" stroke="#000" stroke-width="0.22">protein level</text>
<line x1="312.4" y1="231.89999999999998" x2="312.4" y2="286.9" stroke="#000" stroke-width="1.0"/>
<line x1="311.9" y1="286.4" x2="394.8" y2="286.4" stroke="#000" stroke-width="1.0"/>
<line x1="310.4" y1="232.39999999999998" x2="312.4" y2="232.39999999999998" stroke="#000" stroke-width="1.0"/>
<text x="309.2" y="234.2" font-size="5.0" text-anchor="end" fill="#000" stroke="#000" stroke-width="0.22">1.5</text>
<line x1="310.4" y1="250.39999999999998" x2="312.4" y2="250.39999999999998" stroke="#000" stroke-width="1.0"/>
<text x="309.2" y="252.2" font-size="5.0" text-anchor="end" fill="#000" stroke="#000" stroke-width="0.22">1.0</text>
<line x1="310.4" y1="268.4" x2="312.4" y2="268.4" stroke="#000" stroke-width="1.0"/>
<text x="309.2" y="270.2" font-size="5.0" text-anchor="end" fill="#000" stroke="#000" stroke-width="0.22">0.5</text>
<line x1="310.4" y1="286.4" x2="312.4" y2="286.4" stroke="#000" stroke-width="1.0"/>
<text x="309.2" y="288.2" font-size="5.0" text-anchor="end" fill="#000" stroke="#000" stroke-width="0.22">0.0</text>
<line x1="318.9" y1="250.03999999999996" x2="318.9" y2="246.43999999999997" stroke="#000" stroke-width="1.0"/>
<line x1="317.09999999999997" y1="246.93999999999997" x2="320.7" y2="246.93999999999997" stroke="#000" stroke-width="1.0"/>
<rect x="315.90" y="250.54" width="6.00" height="35.86" fill="#ffffff" stroke="#000" stroke-width="1"/>
<line x1="327.95" y1="277.03999999999996" x2="327.95" y2="273.08" stroke="#000" stroke-width="1.0"/>
<line x1="326.15" y1="273.58" x2="329.75" y2="273.58" stroke="#000" stroke-width="1.0"/>
<rect x="325.00" y="277.54" width="5.90" height="8.86" fill="#d6738e" stroke="#000" stroke-width="1"/>
<line x1="337.35" y1="275.23999999999995" x2="337.35" y2="270.91999999999996" stroke="#000" stroke-width="1.0"/>
<line x1="335.55" y1="271.41999999999996" x2="339.15000000000003" y2="271.41999999999996" stroke="#000" stroke-width="1.0"/>
<rect x="334.40" y="275.74" width="5.90" height="10.66" fill="#5d95db" stroke="#000" stroke-width="1"/>
<line x1="346.45000000000005" y1="257.23999999999995" x2="346.45000000000005" y2="253.64" stroke="#000" stroke-width="1.0"/>
<line x1="344.65000000000003" y1="254.14" x2="348.25000000000006" y2="254.14" stroke="#000" stroke-width="1.0"/>
<rect x="343.60" y="257.74" width="5.70" height="28.66" fill="#e8a33d" stroke="#000" stroke-width="1"/>
<line x1="361.75" y1="250.03999999999996" x2="361.75" y2="245.71999999999997" stroke="#000" stroke-width="1.0"/>
<line x1="359.95" y1="246.21999999999997" x2="363.55" y2="246.21999999999997" stroke="#000" stroke-width="1.0"/>
<rect x="358.90" y="250.54" width="5.70" height="35.86" fill="#ffffff" stroke="#000" stroke-width="1"/>
<line x1="370.9" y1="272.71999999999997" x2="370.9" y2="269.47999999999996" stroke="#000" stroke-width="1.0"/>
<line x1="369.09999999999997" y1="269.97999999999996" x2="372.7" y2="269.97999999999996" stroke="#000" stroke-width="1.0"/>
<rect x="367.90" y="273.22" width="6.00" height="13.18" fill="#d6738e" stroke="#000" stroke-width="1"/>
<line x1="379.9" y1="273.44" x2="379.9" y2="269.47999999999996" stroke="#000" stroke-width="1.0"/>
<line x1="378.09999999999997" y1="269.97999999999996" x2="381.7" y2="269.97999999999996" stroke="#000" stroke-width="1.0"/>
<rect x="377.00" y="273.94" width="5.80" height="12.46" fill="#5d95db" stroke="#000" stroke-width="1"/>
<line x1="388.85" y1="255.98" x2="388.85" y2="252.01999999999998" stroke="#000" stroke-width="1.0"/>
<line x1="387.05" y1="252.51999999999998" x2="390.65000000000003" y2="252.51999999999998" stroke="#000" stroke-width="1.0"/>
<rect x="385.80" y="256.48" width="6.10" height="29.92" fill="#e8a33d" stroke="#000" stroke-width="1"/>
<line x1="318.5" y1="241.4" x2="327.8" y2="241.4" stroke="#000" stroke-width="1.2"/>
<line x1="318.5" y1="238.0" x2="318.5" y2="244.8" stroke="#000" stroke-width="1.2"/>
<line x1="327.8" y1="238.0" x2="327.8" y2="244.8" stroke="#000" stroke-width="1.2"/>
<text x="323.2" y="241.82999999999998" font-size="9" text-anchor="middle" fill="#000" stroke="#000" stroke-width="0.22">*</text>
<line x1="337.7" y1="248.2" x2="346.7" y2="248.2" stroke="#000" stroke-width="1.2"/>
<line x1="337.7" y1="244.79999999999998" x2="337.7" y2="251.6" stroke="#000" stroke-width="1.2"/>
<line x1="346.7" y1="244.79999999999998" x2="346.7" y2="251.6" stroke="#000" stroke-width="1.2"/>
<text x="342.2" y="248.73" font-size="9" text-anchor="middle" fill="#000" stroke="#000" stroke-width="0.22">*</text>
<line x1="361.3" y1="239.7" x2="370.5" y2="239.7" stroke="#000" stroke-width="1.2"/>
<line x1="361.3" y1="236.39999999999998" x2="361.3" y2="243.0" stroke="#000" stroke-width="1.2"/>
<line x1="370.5" y1="236.39999999999998" x2="370.5" y2="243.0" stroke="#000" stroke-width="1.2"/>
<text x="365.9" y="239.82999999999998" font-size="9" text-anchor="middle" fill="#000" stroke="#000" stroke-width="0.22">*</text>
<line x1="380.4" y1="246.3" x2="388.8" y2="246.3" stroke="#000" stroke-width="1.2"/>
<line x1="380.4" y1="242.9" x2="380.4" y2="249.70000000000002" stroke="#000" stroke-width="1.2"/>
<line x1="388.8" y1="242.9" x2="388.8" y2="249.70000000000002" stroke="#000" stroke-width="1.2"/>
<text x="384.5" y="246.63" font-size="9" text-anchor="middle" fill="#000" stroke="#000" stroke-width="0.22">*</text>
<line x1="332.7" y1="286.4" x2="332.7" y2="288.4" stroke="#000" stroke-width="0.9"/>
<line x1="375.2" y1="286.4" x2="375.2" y2="288.4" stroke="#000" stroke-width="0.9"/>
<text x="332" y="294.9" font-size="5.6" text-anchor="middle" fill="#000" stroke="#000" stroke-width="0.22">5637</text>
<text x="375.5" y="295.2" font-size="5.6" text-anchor="middle" fill="#000" stroke="#000" stroke-width="0.22">T24</text>
<rect x="287.95" y="300.10" width="7.70" height="3.00" fill="#ffffff" stroke="#000" stroke-width="1.5"/>
<rect x="287.95" y="310.00" width="7.70" height="3.00" fill="#d6738e" stroke="#000" stroke-width="1.5"/>
<rect x="287.95" y="320.10" width="7.70" height="3.00" fill="#5d95db" stroke="#000" stroke-width="1.5"/>
<rect x="287.95" y="329.90" width="7.70" height="3.00" fill="#e8a33d" stroke="#000" stroke-width="1.5"/>
<clipPath id="cf"><rect x="298" y="299.8" width="30" height="8"/></clipPath>
<text x="300.3" y="303.3" font-size="5.8" text-anchor="start" fill="#000" stroke="#000" stroke-width="0.22" clip-path="url(#cf)">si-NC</text>
<text x="300.2" y="313.5" font-size="6" text-anchor="start" fill="#000" stroke="#000" stroke-width="0.22" textLength="49.3" lengthAdjust="spacingAndGlyphs">si-circ_0008035#1</text>
<text x="300.2" y="323.5" font-size="6" text-anchor="start" fill="#000" stroke="#000" stroke-width="0.22" textLength="73.8" lengthAdjust="spacingAndGlyphs">si-circ_0008035#1+anti-NC</text>
<text x="300.2" y="333.3" font-size="6" text-anchor="start" fill="#000" stroke="#000" stroke-width="0.22" textLength="92.2" lengthAdjust="spacingAndGlyphs">si-circ_0008035#1+anti-miR-1184</text>
<text x="280.6" y="333.8" font-size="8.2" text-anchor="start" fill="#000" stroke="#000" stroke-width="0.22">f</text>
</g>
</svg>
</body></html>
